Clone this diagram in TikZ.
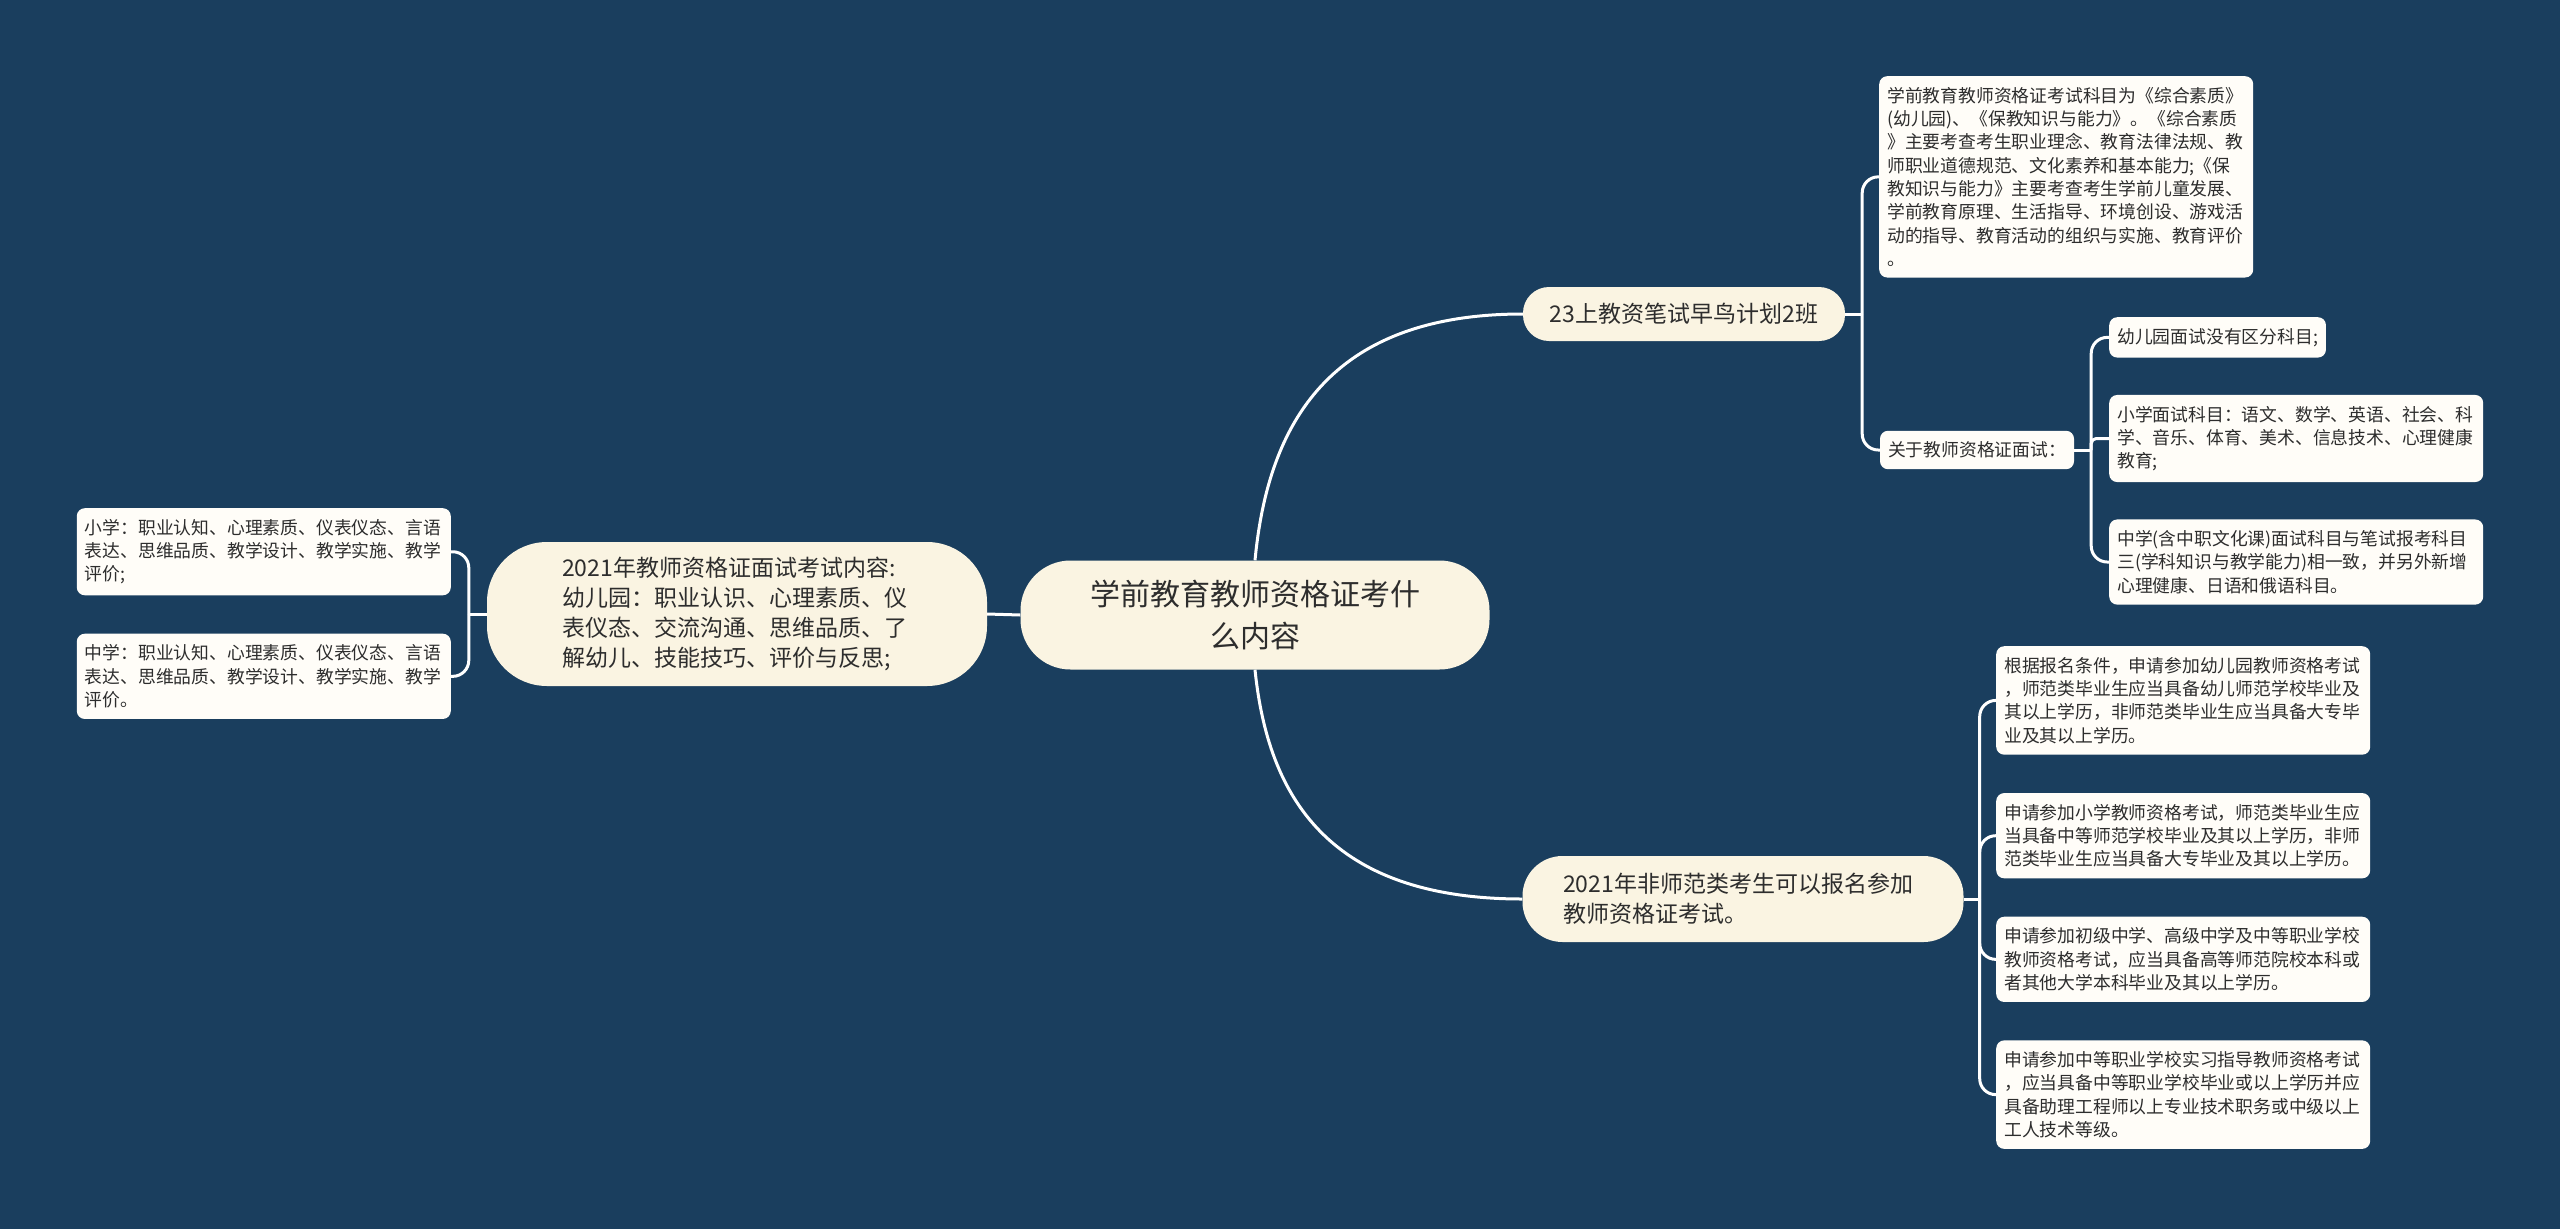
\documentclass[tikz,border=0pt]{standalone}
\usepackage{fontspec}
\setmainfont{Noto Sans CJK SC}
\usetikzlibrary{positioning}
\definecolor{mapNavy}{RGB}{26,62,94}
\definecolor{mapCream}{RGB}{250,244,226}
\definecolor{mapPaper}{RGB}{255,253,248}
\definecolor{mapInk}{RGB}{45,45,45}
\tikzset{
  map root/.style={fill=mapCream,rounded corners=50pt,align=center,text=mapInk,font=\fontsize{30pt}{42pt}\selectfont,minimum width=469pt,minimum height=109pt},
  map topic/.style={fill=mapCream,align=left,text=mapInk,font=\fontsize{23pt}{30pt}\selectfont},
  map leaf/.style={fill=mapPaper,rounded corners=8pt,align=left,text=mapInk,font=\fontsize{17.8pt}{23.3pt}\selectfont,inner xsep=8pt,inner ysep=11pt},
  map leaf wide/.style={map leaf,text width=358pt},
  map edge/.style={draw=white,line width=3pt},
  map bracket/.style={map edge,rounded corners=16pt}
}

\begin{document}
\begin{tikzpicture}[x=1pt,y=-1pt,node distance=38pt]
  \useasboundingbox (0,0) rectangle (2560,1229);
  \fill[mapNavy] (0,0) rectangle (2560,1229);
  % centre and first level
  \node[map root] (root) at (1255,615) {学前教育教师资格证考什\\么内容};
  \node[map topic,rounded corners=60pt,minimum width=500pt,minimum height=144pt,text width=350pt] (talk) at (737,614) {2021年教师资格证面试考试内容:\\幼儿园：职业认识、心理素质、仪\\表仪态、交流沟通、思维品质、了\\解幼儿、技能技巧、评价与反思;};
  \node[map topic,rounded corners=26pt,minimum width=322pt,minimum height=54pt] (early) at (1684,314) {23上教资笔试早鸟计划2班};
  \node[map topic,rounded corners=40pt,minimum width=441pt,minimum height=86pt,text width=360pt] (nonnormal) at (1743,899) {2021年非师范类考生可以报名参加\\教师资格证考试。};
  % right, upper branch
  \node[map leaf wide,anchor=north west] (syllabus) at (1879,76) {学前教育教师资格证考试科目为《综合素质》\\(幼儿园)、《保教知识与能力》。《综合素质\\》主要考查考生职业理念、教育法律法规、教\\师职业道德规范、文化素养和基本能力;《保\\教知识与能力》主要考查考生学前儿童发展、\\学前教育原理、生活指导、环境创设、游戏活\\动的指导、教育活动的组织与实施、教育评价\\。};
  \node[map leaf] (interview) at (1977,450) {关于教师资格证面试：};
  \node[map leaf,anchor=north west] (kinder) at (2109,317) {幼儿园面试没有区分科目;};
  \node[map leaf wide,below right=37pt and 0pt of kinder.south west] (primary) {小学面试科目：语文、数学、英语、社会、科\\学、音乐、体育、美术、信息技术、心理健康\\教育;};
  \node[map leaf wide,below=37pt of primary] (middle) {中学(含中职文化课)面试科目与笔试报考科目\\三(学科知识与教学能力)相一致，并另外新增\\心理健康、日语和俄语科目。};
  % right, lower branch
  \node[map leaf wide,anchor=north west] (applyKg) at (1996,646) {根据报名条件，申请参加幼儿园教师资格考试\\，师范类毕业生应当具备幼儿师范学校毕业及\\其以上学历，非师范类毕业生应当具备大专毕\\业及其以上学历。};
  \node[map leaf wide,below=of applyKg] (applyPri) {申请参加小学教师资格考试，师范类毕业生应\\当具备中等师范学校毕业及其以上学历，非师\\范类毕业生应当具备大专毕业及其以上学历。};
  \node[map leaf wide,below=of applyPri] (applySec) {申请参加初级中学、高级中学及中等职业学校\\教师资格考试，应当具备高等师范院校本科或\\者其他大学本科毕业及其以上学历。};
  \node[map leaf wide,below=of applySec] (applyVoc) {申请参加中等职业学校实习指导教师资格考试\\，应当具备中等职业学校毕业或以上学历并应\\具备助理工程师以上专业技术职务或中级以上\\工人技术等级。};
  % left branch
  \node[map leaf wide,anchor=north east] (talkPri) at (451,508) {小学：职业认知、心理素质、仪表仪态、言语\\表达、思维品质、教学设计、教学实施、教学\\评价;};
  \node[map leaf wide,below=of talkPri] (talkSec) {中学：职业认知、心理素质、仪表仪态、言语\\表达、思维品质、教学设计、教学实施、教学\\评价。};

  % connectors
  \draw[map edge] (root.west) -- (talk.east);
  \draw[map edge] (root.north) .. controls +(13,-137) and +(-193,0) .. (early.west);
  \draw[map edge] (root.south) .. controls +(13,128) and +(-193,0) .. (nonnormal.west);

  \coordinate[right=17pt of early.east] (earlyFork);
  \draw[map edge] (early.east) -- (earlyFork);
  \draw[map bracket] (earlyFork) |- (syllabus.west);
  \draw[map bracket] (earlyFork) |- (interview.west);

  \coordinate[right=17pt of interview.east] (interviewFork);
  \draw[map edge] (interview.east) -- (interviewFork);
  \draw[map bracket] (interviewFork) |- (kinder.west);
  \draw[map edge,rounded corners=5pt] (interviewFork) |- (primary.west);
  \draw[map bracket] (interviewFork) |- (middle.west);

  \coordinate[right=16pt of nonnormal.east] (nonnormalFork);
  \draw[map edge] (nonnormal.east) -- (nonnormalFork);
  \foreach \leaf in {applyKg,applyPri,applySec,applyVoc}
    \draw[map bracket] (nonnormalFork) |- (\leaf.west);

  \coordinate[left=18pt of talk.west] (talkFork);
  \draw[map edge] (talk.west) -- (talkFork);
  \foreach \leaf in {talkPri,talkSec}
    \draw[map bracket] (talkFork) |- (\leaf.east);
\end{tikzpicture}
\end{document}
